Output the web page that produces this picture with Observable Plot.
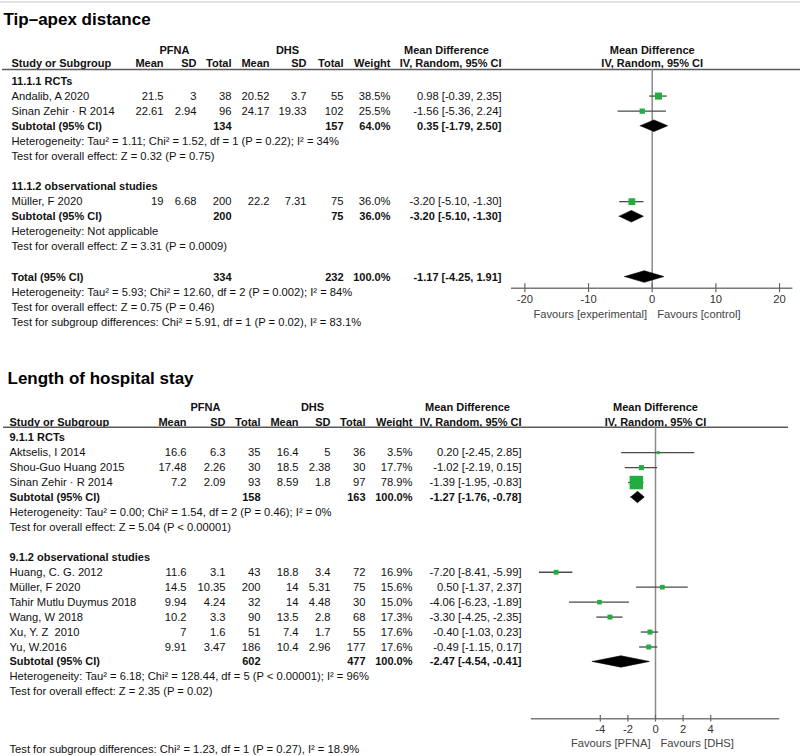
<!DOCTYPE html>
<html>
<head>
<meta charset="utf-8">
<script src="https://cdn.jsdelivr.net/npm/d3@7"></script>
<script src="https://cdn.jsdelivr.net/npm/@observablehq/plot@0.6"></script>
<style>
  html, body { margin: 0; padding: 0; background: #fff; }
  #chart svg { display: block; }
</style>
</head>
<body>
<div id="chart"></div>
<script>
// ---------- Shared header labels ----------
const headerTop = ["PFNA", "DHS", "Mean Difference", "Mean Difference"];
const headerCols = ["Study or Subgroup", "Mean", "SD", "Total", "Mean", "SD", "Total", "Weight", "IV, Random, 95% CI", "IV, Random, 95% CI"];

// ---------- Panel 1: Tip–apex distance ----------
const tadTitle = "Tip–apex distance";
const tadGroups = ["11.1.1 RCTs", "11.1.2 observational studies"];
const tadStudies = ["Andalib, A 2020", "Sinan Zehir · R 2014", "Müller, F 2020"];
const tadGroupOf = [0, 0, 1];
const tadPFNA = [[21.5, 3, 38], [22.61, 2.94, 96], [19, 6.68, 200]];
const tadDHS = [[20.52, 3.7, 55], [24.17, 19.33, 102], [22.2, 7.31, 75]];
const tadWeight = [38.5, 25.5, 36.0];
const tadMD = [[0.98, -0.39, 2.35], [-1.56, -5.36, 2.24], [-3.20, -5.10, -1.30]];
const tadSubN = [[134, 157], [200, 75]];
const tadSubWeight = [64.0, 36.0];
const tadSubMD = [[0.35, -1.79, 2.50], [-3.20, -5.10, -1.30]];
const tadHet = ["Heterogeneity: Tau² = 1.11; Chi² = 1.52, df = 1 (P = 0.22); I² = 34%", "Heterogeneity: Not applicable"];
const tadTest = ["Test for overall effect: Z = 0.32 (P = 0.75)", "Test for overall effect: Z = 3.31 (P = 0.0009)"];
const tadTotalN = [334, 232];
const tadTotalWeight = 100.0;
const tadTotalMD = [-1.17, -4.25, 1.91];
const tadTotalNotes = ["Heterogeneity: Tau² = 5.93; Chi² = 12.60, df = 2 (P = 0.002); I² = 84%", "Test for overall effect: Z = 0.75 (P = 0.46)"];
const tadSubgroupTest = "Test for subgroup differences: Chi² = 5.91, df = 1 (P = 0.02), I² = 83.1%";
const tadTicks = [-20, -10, 0, 10, 20];
const tadFavours = ["Favours [experimental]", "Favours [control]"];

// ---------- Panel 2: Length of hospital stay ----------
const losTitle = "Length of hospital stay";
const losGroups = ["9.1.1 RCTs", "9.1.2 observational studies"];
const losStudies = ["Aktselis, I 2014", "Shou-Guo Huang 2015", "Sinan Zehir · R 2014", "Huang, C. G. 2012", "Müller, F 2020", "Tahir Mutlu Duymus 2018", "Wang, W 2018", "Xu, Y. Z  2010", "Yu, W.2016"];
const losGroupOf = [0, 0, 0, 1, 1, 1, 1, 1, 1];
const losPFNA = [[16.6, 6.3, 35], [17.48, 2.26, 30], [7.2, 2.09, 93], [11.6, 3.1, 43], [14.5, 10.35, 200], [9.94, 4.24, 32], [10.2, 3.3, 90], [7, 1.6, 51], [9.91, 3.47, 186]];
const losDHS = [[16.4, 5, 36], [18.5, 2.38, 30], [8.59, 1.8, 97], [18.8, 3.4, 72], [14, 5.31, 75], [14, 4.48, 30], [13.5, 2.8, 68], [7.4, 1.7, 55], [10.4, 2.96, 177]];
const losWeight = [3.5, 17.7, 78.9, 16.9, 15.6, 15.0, 17.3, 17.6, 17.6];
const losMD = [[0.20, -2.45, 2.85], [-1.02, -2.19, 0.15], [-1.39, -1.95, -0.83], [-7.20, -8.41, -5.99], [0.50, -1.37, 2.37], [-4.06, -6.23, -1.89], [-3.30, -4.25, -2.35], [-0.40, -1.03, 0.23], [-0.49, -1.15, 0.17]];
const losSubN = [[158, 163], [602, 477]];
const losSubWeight = [100.0, 100.0];
const losSubMD = [[-1.27, -1.76, -0.78], [-2.47, -4.54, -0.41]];
const losHet = ["Heterogeneity: Tau² = 0.00; Chi² = 1.54, df = 2 (P = 0.46); I² = 0%", "Heterogeneity: Tau² = 6.18; Chi² = 128.44, df = 5 (P < 0.00001); I² = 96%"];
const losTest = ["Test for overall effect: Z = 5.04 (P < 0.00001)", "Test for overall effect: Z = 2.35 (P = 0.02)"];
const losSubgroupTest = "Test for subgroup differences: Chi² = 1.23, df = 1 (P = 0.27), I² = 18.9%";
const losTicks = [-4, -2, 0, 2, 4];
const losFavours = ["Favours [PFNA]", "Favours [DHS]"];

// ---------- Layout (styling / positions, not data) ----------
const tadLayout = {
  height: 330, y0: 80.5, step: 15.08, xDomain: [-22.1, 22.1], xRange: [511, 792.4],
  marginBottom: 42.3, tickPad: 7.2, tickHalf: 0.3, diaHalf: 0.385,
  rTop: -5.24, rTitle: -4.05, titleX: 3, rHead1: -2.04, rHead2: -1.15, rUnder: -0.76,
  underInset: [2, 0], rAxis: 13.74, rFav: 15.45, rSubgroup: null,
  cols: {study: 11, m1: 163, sd1: 196, n1: 231, m2: 269, sd2: 306, n2: 343, w: 390, ci: 501},
  headTop: [174, 287, 446], rSize: {domain: [25.5, 38.5], range: [3.0, 4.0]}
};
const losLayout = {
  height: 426, y0: 107.2, step: 14.95, xDomain: [-9, 9], xRange: [530.8, 779.2],
  marginBottom: 37.7, tickPad: 6.2, tickHalf: 0.22, diaHalf: 0.38,
  rTop: null, rTitle: -3.97, titleX: 7, rHead1: -2.01, rHead2: -1.05, rUnder: -0.70,
  underInset: [3, 12], rAxis: 18.80, rFav: 20.43, rSubgroup: 20.86,
  cols: {study: 9, m1: 186, sd1: 225, n1: 260, m2: 298, sd2: 330, n2: 365, w: 412, ci: 521},
  headTop: [205, 312, 467], rSize: {domain: [3.5, 78.9], range: [1.7, 7.6]}
};

const INK = "#111";
const FS = 11.2, FSB = 11;
const fmtCI = ([m, l, h]) => `${m.toFixed(2)} [${l.toFixed(2)}, ${h.toFixed(2)}]`;

function forest(D, L) {
  const rows = [], sq = [], dia = [];
  let r = 0;
  D.groups.forEach((g, gi) => {
    rows.push({r, label: g, bold: true}); r++;
    D.studies.forEach((s, i) => {
      if (D.groupOf[i] !== gi) return;
      const [m1, s1, n1] = D.pfna[i], [m2, s2, n2] = D.dhs[i];
      rows.push({r, label: s, m1: String(m1), sd1: String(s1), n1: String(n1),
        m2: String(m2), sd2: String(s2), n2: String(n2),
        w: D.weight[i].toFixed(1) + "%", ci: fmtCI(D.md[i]), bold: false});
      sq.push({r, md: D.md[i][0], lo: D.md[i][1], hi: D.md[i][2], w: D.weight[i]});
      r++;
    });
    rows.push({r, label: "Subtotal (95% CI)", n1: String(D.subN[gi][0]), n2: String(D.subN[gi][1]),
      w: D.subWeight[gi].toFixed(1) + "%", ci: fmtCI(D.subMD[gi]), bold: true});
    dia.push({r, md: D.subMD[gi][0], lo: D.subMD[gi][1], hi: D.subMD[gi][2]});
    r++;
    rows.push({r, label: D.het[gi], bold: false}); r++;
    rows.push({r, label: D.test[gi], bold: false}); r++;
    r++;
  });
  if (D.totalN) {
    rows.push({r, label: "Total (95% CI)", n1: String(D.totalN[0]), n2: String(D.totalN[1]),
      w: D.totalWeight.toFixed(1) + "%", ci: fmtCI(D.totalMD), bold: true});
    dia.push({r, md: D.totalMD[0], lo: D.totalMD[1], hi: D.totalMD[2]});
    r++;
    D.totalNotes.forEach(t => { rows.push({r, label: t, bold: false}); r++; });
  }
  rows.push({r: L.rSubgroup != null ? L.rSubgroup : r, label: D.subgroupTest, bold: false});

  const C = L.cols;
  const marks = [];
  const T = (txt, row, opts) => Plot.text([txt], {text: d => d, y: () => row, fontSize: FS, fill: INK, ...opts});

  // top rule
  if (L.rTop != null) marks.push(Plot.ruleY([L.rTop], {stroke: "#c8c8c8", strokeWidth: 1}));
  // title
  marks.push(T(D.title, L.rTitle, {frameAnchor: "left", dx: L.titleX, textAnchor: "start", fontSize: 17, fontWeight: "bold", fill: "#000"}));
  // headers
  const HB = {fontWeight: "bold", fontSize: FSB};
  marks.push(T(headerTop[0], L.rHead1, {frameAnchor: "left", dx: L.headTop[0], textAnchor: "middle", ...HB}));
  marks.push(T(headerTop[1], L.rHead1, {frameAnchor: "left", dx: L.headTop[1], textAnchor: "middle", ...HB}));
  marks.push(T(headerTop[2], L.rHead1, {frameAnchor: "left", dx: L.headTop[2], textAnchor: "middle", ...HB}));
  marks.push(T(headerTop[3], L.rHead1, {x: () => 0, textAnchor: "middle", ...HB}));
  const colKeys = ["m1", "sd1", "n1", "m2", "sd2", "n2", "w", "ci"];
  marks.push(T(headerCols[0], L.rHead2, {frameAnchor: "left", dx: C.study, textAnchor: "start", ...HB}));
  colKeys.forEach((k, i) => marks.push(T(headerCols[i + 1], L.rHead2, {frameAnchor: "left", dx: C[k], textAnchor: "end", ...HB})));
  marks.push(T(headerCols[9], L.rHead2, {x: () => 0, textAnchor: "middle", ...HB}));
  // header underline
  marks.push(Plot.ruleY([L.rUnder], {stroke: "#5a5a5a", strokeWidth: 1.6, insetLeft: L.underInset[0], insetRight: L.underInset[1]}));

  // table body text
  const col = (key, dx, anchor) => [false, true].map(b =>
    Plot.text(rows.filter(q => q[key] != null && q.bold === b), {
      text: key, y: "r", frameAnchor: "left", dx, textAnchor: anchor,
      fontSize: b ? FSB : FS, fontWeight: b ? "bold" : "normal", fill: INK
    }));
  marks.push(...col("label", C.study, "start"));
  colKeys.forEach(k => marks.push(...col(k, C[k], "end")));

  // forest: zero line, axis line, ticks
  marks.push(Plot.ruleX([0], {y1: () => L.rUnder, y2: () => L.rAxis, stroke: "#8a8a8a", strokeWidth: 1.5}));
  marks.push(Plot.ruleY([L.rAxis], {x1: () => L.xDomain[0], x2: () => L.xDomain[1], stroke: "#7a7a7a", strokeWidth: 1.5}));
  marks.push(Plot.ruleX(D.ticks, {x: d => d, y1: () => L.rAxis - L.tickHalf, y2: () => L.rAxis + L.tickHalf, stroke: "#666", strokeWidth: 1.2}));
  marks.push(Plot.axisX({ticks: D.ticks, tickFormat: d => String(d), tickSize: 0, tickPadding: L.tickPad, fontSize: FS, color: "#333", label: null}));
  // favours labels
  marks.push(T(D.favours[0], L.rFav, {x: () => 0, dx: -5, textAnchor: "end", fill: "#444"}));
  marks.push(T(D.favours[1], L.rFav, {x: () => 0, dx: 5, textAnchor: "start", fill: "#444"}));

  // CIs and squares
  marks.push(Plot.ruleY(sq, {y: "r", x1: "lo", x2: "hi", stroke: "#4a4a4a", strokeWidth: 1.3}));
  marks.push(Plot.dot(sq, {x: "md", y: "r", r: "w", symbol: "square", fill: "#21ad3f", stroke: null}));
  // diamonds
  const dpts = dia.flatMap((q, i) => [
    {id: i, x: q.lo, y1: q.r, y2: q.r},
    {id: i, x: q.md, y1: q.r - L.diaHalf, y2: q.r + L.diaHalf},
    {id: i, x: q.hi, y1: q.r, y2: q.r}
  ]);
  marks.push(Plot.areaY(dpts, {x: "x", y1: "y1", y2: "y2", z: "id", fill: "#000", stroke: "#000", strokeWidth: 0.6}));

  return Plot.plot({
    width: 800, height: L.height,
    marginLeft: 0, marginRight: 0, marginTop: 0, marginBottom: L.marginBottom,
    x: {domain: L.xDomain, range: L.xRange},
    y: {domain: [0, 1], range: [L.y0, L.y0 + L.step], axis: null},
    r: {type: "linear", domain: L.rSize.domain, range: L.rSize.range},
    style: {fontFamily: '"Liberation Sans", Arial, sans-serif', fontSize: "11px", background: "#fff", color: INK},
    marks
  });
}

const chart = document.getElementById("chart");
chart.append(forest({
  title: tadTitle, groups: tadGroups, studies: tadStudies, groupOf: tadGroupOf,
  pfna: tadPFNA, dhs: tadDHS, weight: tadWeight, md: tadMD,
  subN: tadSubN, subWeight: tadSubWeight, subMD: tadSubMD, het: tadHet, test: tadTest,
  totalN: tadTotalN, totalWeight: tadTotalWeight, totalMD: tadTotalMD, totalNotes: tadTotalNotes,
  subgroupTest: tadSubgroupTest, ticks: tadTicks, favours: tadFavours
}, tadLayout));
chart.append(forest({
  title: losTitle, groups: losGroups, studies: losStudies, groupOf: losGroupOf,
  pfna: losPFNA, dhs: losDHS, weight: losWeight, md: losMD,
  subN: losSubN, subWeight: losSubWeight, subMD: losSubMD, het: losHet, test: losTest,
  totalN: null, subgroupTest: losSubgroupTest, ticks: losTicks, favours: losFavours
}, losLayout));
</script>
</body>
</html>
